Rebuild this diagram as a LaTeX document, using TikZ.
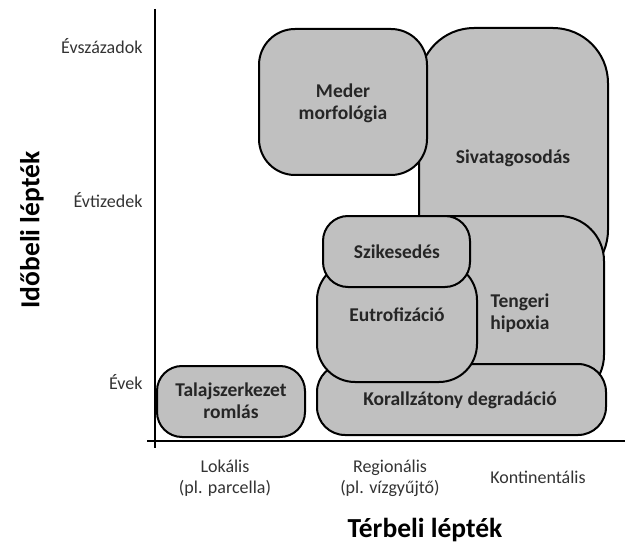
\documentclass[tikz,border=0pt]{standalone}
\usepackage{fontspec}
\setmainfont{Carlito}
\definecolor{boxgray}{RGB}{192,192,192}
\begin{document}
\begin{tikzpicture}[x=1pt,y=-1pt,
  box/.style={draw=black,fill=boxgray,line width=2pt},
  lbl/.style={font=\bfseries\fontsize{19.5}{22}\selectfont,align=center,text=black!85},
  tick/.style={font=\fontsize{18}{21}\selectfont,text=black!80,align=center},
  axtitle/.style={font=\bfseries\fontsize{27.5}{30}\selectfont}]
  \useasboundingbox (0,0) rectangle (625,551);

  % axes
  \coordinate (O) at (155,441);
  \draw[line width=1.5pt] (155,9) -- (155,448);
  \draw[line width=1.5pt] (147,441) -- (625,441);

  % boxes
  \draw[box,rounded corners=55pt] (419,28) rectangle (608,285);
  \draw[box,rounded corners=36pt] (259,29) rectangle (427,175);
  \draw[box,rounded corners=45pt] (400,216) rectangle (604,400);
  \draw[box,rounded corners=28pt] (317,364) rectangle (606,435);
  \draw[box,rounded corners=38pt] (317,262) rectangle (477,382);
  \draw[box,rounded corners=25pt] (323,216) rectangle (470,287);
  \draw[box,rounded corners=25pt] (157,366) rectangle (305,437);

  % labels
  \node[lbl] (meder) at (343,103) {Meder\\morfológia};
  \node[lbl] (sivatag) at (513,158) {Sivatagosodás};
  \node[lbl] (szik) at (397,252) {Szikesedés};
  \node[lbl] (eutro) at (397,315) {Eutrofizáció};
  \node[lbl] (tenger) at (520,313) {Tengeri\\hipoxia};
  \node[lbl] (korall) at (460,400) {Korallzátony degradáció};
  \node[lbl] (talaj) at (231,401) {Talajszerkezet\\romlás};

  % ticks
  \node[tick,anchor=east] (szazad) at (146,46) {Évszázadok};
  \node[tick,anchor=east] (tized) at (146,200) {Évtizedek};
  \node[tick,anchor=east] (ev) at (146,382) {Évek};
  \node[tick] (lokal) at (225,478) {Lokális\\(pl. parcella)};
  \node[tick] (regio) at (390,478) {Regionális\\(pl. vízgyűjtő)};
  \node[tick] (konti) at (538,477) {Kontinentális};

  % titles
  \node[axtitle] (ter) at (425,530) {Térbeli lépték};
  \node[axtitle,rotate=90] (ido) at (32,230) {Időbeli lépték};
\end{tikzpicture}
\end{document}
